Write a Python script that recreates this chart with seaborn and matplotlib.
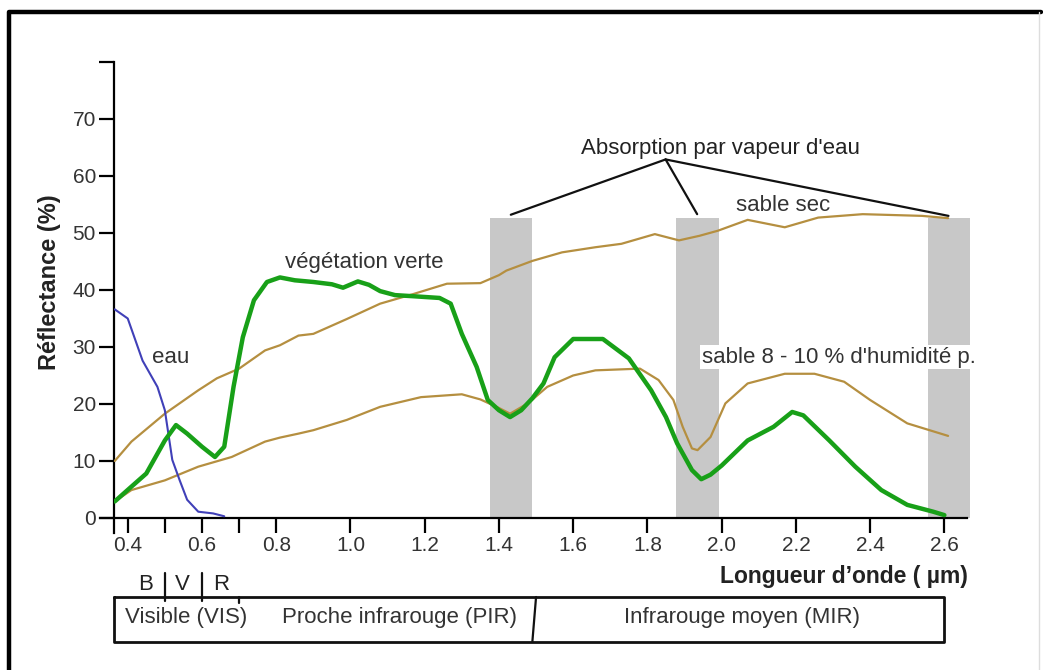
import matplotlib
matplotlib.use("Agg")
import matplotlib.pyplot as plt
import matplotlib.transforms as mtransforms
import seaborn as sns
import pandas as pd

# Spectral signatures (wavelength in µm, reflectance in %)
eau_wl = [0.365, 0.40, 0.44, 0.48, 0.50, 0.52, 0.54, 0.56, 0.59, 0.63, 0.66]
eau_r = [36.6, 35.0, 27.6, 23.0, 18.9, 10.2, 6.6, 3.2, 1.1, 0.8, 0.3]

veg_wl = [0.365, 0.41, 0.45, 0.50, 0.53, 0.56, 0.60, 0.635, 0.66, 0.685, 0.71, 0.74,
          0.775, 0.81, 0.85, 0.90, 0.95, 0.98, 1.02, 1.05, 1.08, 1.12, 1.17, 1.24,
          1.27, 1.30, 1.34, 1.37, 1.40, 1.43, 1.46, 1.49, 1.52, 1.55, 1.60, 1.68,
          1.75, 1.81, 1.85, 1.88, 1.92, 1.945, 1.97, 2.00, 2.07, 2.14, 2.19, 2.22,
          2.29, 2.36, 2.43, 2.50, 2.57, 2.60]
veg_r = [2.9, 5.5, 7.8, 13.6, 16.3, 14.8, 12.5, 10.7, 12.5, 23.0, 31.7, 38.2,
         41.4, 42.2, 41.7, 41.4, 41.0, 40.4, 41.5, 40.9, 39.8, 39.1, 38.9, 38.6,
         37.6, 32.3, 26.5, 20.7, 18.9, 17.7, 18.9, 21.0, 23.6, 28.2, 31.4, 31.4,
         28.0, 22.4, 17.7, 13.1, 8.4, 6.8, 7.6, 9.2, 13.6, 16.0, 18.6, 18.0,
         13.6, 9.0, 4.9, 2.3, 1.1, 0.5]

sec_wl = [0.365, 0.41, 0.50, 0.59, 0.64, 0.70, 0.77, 0.81, 0.86, 0.90, 0.99, 1.08,
          1.17, 1.26, 1.35, 1.40, 1.42, 1.49, 1.57, 1.66, 1.73, 1.82, 1.885, 1.94,
          1.99, 2.07, 2.17, 2.26, 2.38, 2.54, 2.61]
sec_r = [10.0, 13.4, 18.3, 22.4, 24.5, 26.2, 29.4, 30.3, 32.0, 32.3, 34.9, 37.6,
         39.3, 41.1, 41.2, 42.6, 43.4, 45.1, 46.6, 47.5, 48.1, 49.8, 48.7, 49.5,
         50.4, 52.3, 51.0, 52.7, 53.3, 53.0, 52.6]

hum_wl = [0.365, 0.41, 0.50, 0.59, 0.68, 0.77, 0.81, 0.86, 0.90, 0.99, 1.08, 1.19,
          1.30, 1.35, 1.40, 1.43, 1.48, 1.53, 1.60, 1.66, 1.78, 1.83, 1.87, 1.895,
          1.92, 1.935, 1.97, 2.01, 2.07, 2.17, 2.25, 2.33, 2.40, 2.50, 2.61]
hum_r = [2.9, 4.9, 6.6, 9.0, 10.7, 13.4, 14.1, 14.8, 15.4, 17.2, 19.5, 21.2,
         21.7, 20.8, 19.3, 18.3, 20.2, 23.0, 25.0, 25.9, 26.2, 24.2, 20.7, 16.0,
         12.2, 11.9, 14.2, 20.1, 23.6, 25.3, 25.3, 23.9, 20.7, 16.6, 14.4]

# water vapour absorption bands
band_start = [1.375, 1.878, 2.556]
band_end = [1.49, 1.993, 2.67]
band_top = 52.7

y_ticks = [0, 10, 20, 30, 40, 50, 60, 70, 80]
y_labels = ["0", "10", "20", "30", "40", "50", "60", "70", ""]
x_ticks = [0.4, 0.5, 0.6, 0.7, 0.8, 1.0, 1.2, 1.4, 1.6, 1.8, 2.0, 2.2, 2.4, 2.6]
x_labels = ["0.4", "", "0.6", "", "0.8", "1.0", "1.2", "1.4", "1.6", "1.8",
            "2.0", "2.2", "2.4", "2.6"]

sns.set_theme(style="white")
plt.rcParams["font.family"] = ["Liberation Sans", "DejaVu Sans"]

txt = "#333333"
brown = "#b58f40"
green = "#18a018"
blue = "#4040b8"

fig = plt.figure(figsize=(10.43, 6.70), dpi=100)
ax = fig.add_axes([0.1093, 0.2269, 0.8175, 0.6806])

# gray absorption bands
for x0, x1 in zip(band_start, band_end):
    poly = ax.fill_between([x0, x1], 0, band_top, color="#c8c8c8", lw=0, zorder=1)
    poly.set_clip_on(False)

# curves
line_kw = dict(estimator=None, solid_joinstyle="round", solid_capstyle="round")
sns.lineplot(x=sec_wl, y=sec_r, color=brown, lw=1.6, ax=ax, zorder=3, **line_kw)
sns.lineplot(x=hum_wl, y=hum_r, color=brown, lw=1.6, ax=ax, zorder=3, **line_kw)
sns.lineplot(x=eau_wl, y=eau_r, color=blue, lw=1.5, ax=ax, zorder=3, **line_kw)
sns.lineplot(x=veg_wl, y=veg_r, color=green, lw=3.2, ax=ax, zorder=4, **line_kw)

ax.set_xlim(0.363, 2.66)
ax.set_ylim(0, 80)

# axis styling
for side in ["top", "right"]:
    ax.spines[side].set_visible(False)
for side in ["left", "bottom"]:
    ax.spines[side].set_linewidth(1.6)
    ax.spines[side].set_color("black")
ax.spines["left"].set_bounds(-2.6, 80)
ax.spines["bottom"].set_bounds(0.325, 2.66)

ax.set_yticks(y_ticks)
ax.set_yticklabels(y_labels)
ax.set_xticks(x_ticks)
ax.set_xticklabels(x_labels)
ax.tick_params(axis="both", direction="out", length=11, width=1.6, color="black",
               labelsize=15, labelcolor=txt, pad=2, left=True, bottom=True)
ax.set_xlabel("")
ax.set_ylabel("")

fs = 16
ax.text(1.038, 44.8, "végétation verte", fontsize=fs, color=txt, ha="center", va="center")
ax.text(0.465, 28.2, "eau", fontsize=fs, color=txt, ha="left", va="center")
ax.text(2.165, 54.8, "sable sec", fontsize=fs, color=txt, ha="center", va="center", zorder=5)
ax.text(1.946, 28.2, "sable 8 - 10 % d'humidité p.", fontsize=fs, color=txt,
        ha="left", va="center", zorder=5, clip_on=False,
        bbox=dict(facecolor="white", edgecolor="none", pad=1))
ax.text(1.996, 64.9, "Absorption par vapeur d'eau", fontsize=fs, color="#222222",
        ha="center", va="center")

# pointer lines to the absorption bands
hub = (1.849, 62.9)
for tip in [(1.432, 53.2), (1.934, 53.3), (2.611, 53.0)]:
    ax.annotate("", xy=tip, xytext=hub,
                arrowprops=dict(arrowstyle="-", color="#111111", lw=1.6,
                                shrinkA=0, shrinkB=0))

# axis titles
fig.text(50 / 1043, (670 - 282) / 670, "Réflectance (%)", rotation=90, fontsize=17,
         fontweight="bold", color="#222222", ha="center", va="center")
fig.text(968 / 1043, (670 - 576) / 670, "Longueur d’onde ( µm)", fontsize=16.5,
         fontweight="bold", color="#222222", ha="right", va="center")

# spectral domain strip below the axis
bt = mtransforms.blended_transform_factory(ax.transData, fig.transFigure)
box_top = (670 - 597) / 670
box_bot = (670 - 642) / 670
box_x0, box_x1 = 0.363, 2.598
ax.plot([box_x0, box_x1, box_x1, box_x0, box_x0],
        [box_top, box_top, box_bot, box_bot, box_top],
        color="#111111", lw=2, transform=bt, clip_on=False)
ax.plot([1.50, 1.49], [box_top, box_bot], color="#111111", lw=1.6,
        transform=bt, clip_on=False)
for xv in [0.5, 0.6]:
    ax.plot([xv, xv], [(670 - 573) / 670, (670 - 601) / 670], color="#111111",
            lw=1.6, transform=bt, clip_on=False)
ax.plot([0.7, 0.7], [box_top, (670 - 603) / 670], color="#111111", lw=1.6,
        transform=bt, clip_on=False)

yl = (670 - 585) / 670
for xv, s in zip([0.449, 0.548, 0.652], ["B", "V", "R"]):
    ax.text(xv, yl, s, fontsize=fs, color="#222222", ha="center", va="center",
            transform=bt)
yb = (670 - 617) / 670
ax.text(0.556, yb, "Visible (VIS)", fontsize=fs, color=txt, ha="center", va="center", transform=bt)
ax.text(1.132, yb, "Proche infrarouge (PIR)", fontsize=fs, color=txt, ha="center", va="center", transform=bt)
ax.text(2.054, yb, "Infrarouge moyen (MIR)", fontsize=fs, color=txt, ha="center", va="center", transform=bt)

# outer frame of the figure
fig.add_artist(plt.Line2D([9 / 1043, 9 / 1043, 1041 / 1043], [0, (670 - 12) / 670, (670 - 12) / 670],
                          color="black", lw=3.2, transform=fig.transFigure))
fig.add_artist(plt.Line2D([1039 / 1043, 1039 / 1043], [0, (670 - 12) / 670],
                          color="#dddddd", lw=1, transform=fig.transFigure))

fig.savefig("out.png", dpi=100)
